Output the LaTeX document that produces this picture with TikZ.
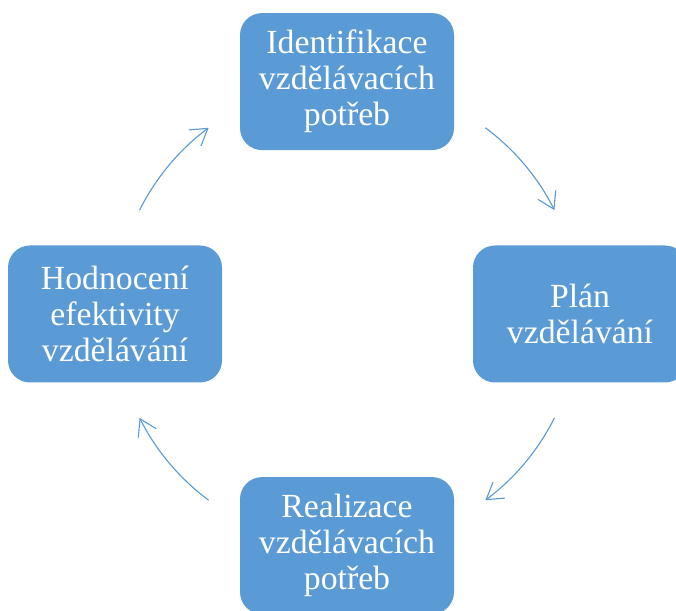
\documentclass[tikz,border=0pt]{standalone}
\usepackage{fontspec}
\setmainfont{Liberation Serif}
\usepackage{xcolor}
\usepackage{tikz}
\usetikzlibrary{positioning,arrows.meta,calc}
\definecolor{offblue}{HTML}{5B9BD5}
\tikzset{
  blk/.style={fill=offblue,rounded corners=0.55cm,align=center,text=white,minimum width=5.35cm,minimum height=3.425cm,font=\fontsize{24}{25.6}\selectfont},
  arr/.style={-{Straight Barb[length=4mm,width=5mm]},draw=offblue,line width=0.8pt},
}
\begin{document}
\begin{tikzpicture}
  \clip (0,0) rectangle (16.9,15.25);
  \node[blk] (ident) at (8.675,13.21) {Identifikace\\vzdělávacích\\potřeb};
  \node[blk] (plan) at (14.5,7.4) {Plán\\vzdělávání};
  \node[blk] (real) at (8.675,1.61) {Realizace\\vzdělávacích\\potřeb};
  \node[blk] (hodn) at (2.875,7.4) {Hodnocení\\efektivity\\vzdělávání};
  % arcs round the middle
  \coordinate (c) at (8.675,7.4);
  \coordinate (a1) at ($(c)+(53.4:5.8)$);
  \coordinate (a2) at ($(c)+(-26.6:5.8)$);
  \coordinate (a3) at ($(c)+(233.4:5.8)$);
  \coordinate (a4) at ($(c)+(153.4:5.8)$);
  \draw[arr] (a1) arc[start angle=53.4,end angle=26.6,radius=5.8];
  \draw[arr] (a2) arc[start angle=-26.6,end angle=-53.4,radius=5.8];
  \draw[arr] (a3) arc[start angle=233.4,end angle=206.6,radius=5.8];
  \draw[arr] (a4) arc[start angle=153.4,end angle=126.6,radius=5.8];
\end{tikzpicture}
\end{document}
